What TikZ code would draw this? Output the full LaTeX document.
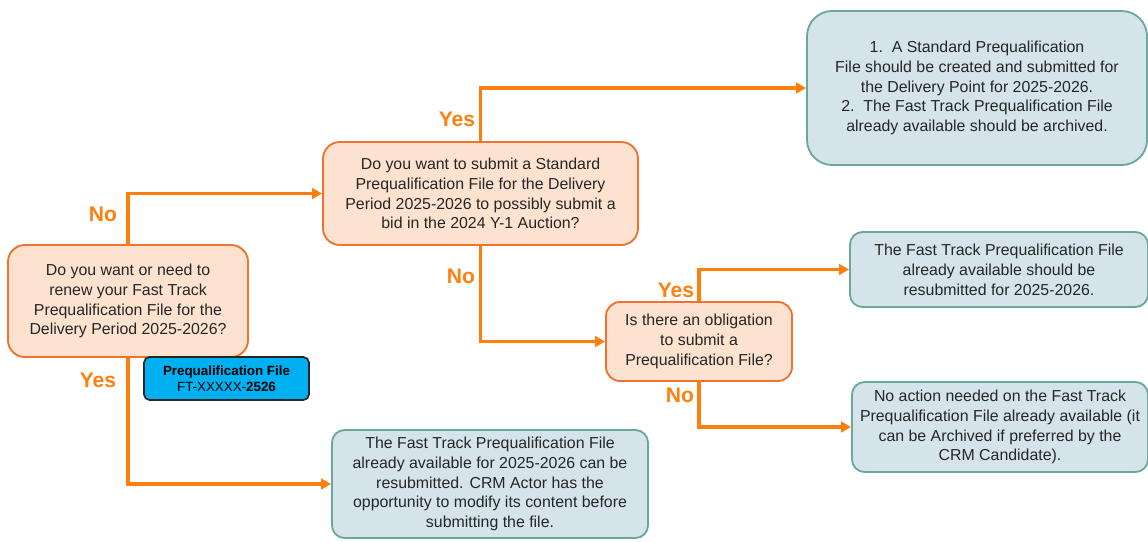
\documentclass[tikz,border=0pt]{standalone}
\usepackage{fontspec}
\setmainfont{Liberation Sans}
\usepackage{tikz}
\usetikzlibrary{arrows.meta,positioning}
\definecolor{floworange}{HTML}{FF7F0E}
\definecolor{askfill}{HTML}{FCE2CF}
\definecolor{askedge}{HTML}{F2712C}
\definecolor{tellfill}{HTML}{D5E4EA}
\definecolor{telledge}{HTML}{6BA89C}
\definecolor{tagblue}{HTML}{00B0F0}

\begin{document}
\begin{tikzpicture}[x=0.025cm,y=-0.025cm,
    ask/.style={draw=askedge,line width=1.3pt,fill=askfill,rounded corners=12pt,align=center,text=black!85,font=\fontsize{11.3}{14.1}\selectfont},
    tell/.style={draw=telledge,line width=1.3pt,fill=tellfill,rounded corners=9pt,align=center,text=black!85,font=\fontsize{11.3}{14.1}\selectfont},
    flow/.style={draw=floworange,line width=2.2pt,-{Triangle[length=7pt,width=7.5pt]}},
    choice/.style={text=floworange,font=\bfseries\fontsize{15}{15}\selectfont}]
    \useasboundingbox (0,0) rectangle (1148,541);
    \node[ask,minimum width=6cm,minimum height=2.8cm] (renew) at (128,301) {Do you want or need to\\renew your Fast Track\\Prequalification File for the\\Delivery Period 2025-2026?};
    \node[ask,minimum width=7.875cm,minimum height=2.575cm] (standard) at (480.5,193.5) {Do you want to submit a Standard\\Prequalification File for the Delivery\\Period 2025-2026 to possibly submit a\\bid in the 2024 Y-1 Auction?};
    \node[ask,rounded corners=10pt,minimum width=4.65cm,minimum height=1.975cm] (obligation) at (699,341.5) {Is there an obligation\\to submit a\\Prequalification File?};
    \node[tell,rounded corners=18pt,minimum width=8.5cm,minimum height=3.85cm] (create) at (977,88) {1.\ \ A Standard Prequalification\\File should be created and submitted for\\the Delivery Point for 2025-2026.\\2.\ \ The Fast Track Prequalification File\\already available should be archived.};
    \node[tell,minimum width=7.45cm,minimum height=1.875cm] (resubmit) at (999,269.5) {The Fast Track Prequalification File\\already available should be\\resubmitted for 2025-2026.};
    \node[tell,minimum width=7.4cm,minimum height=2.25cm] (noaction) at (1000,427) {No action needed on the Fast Track\\Prequalification File already available (it\\can be Archived if preferred by the\\CRM Candidate).};
    \node[tell,minimum width=7.9cm,minimum height=2.7cm] (modify) at (490,484) {The Fast Track Prequalification File\\already available for 2025-2026 can be\\resubmitted. CRM Actor has the\\opportunity to modify its content before\\submitting the file.};
    \node[draw=black!85,line width=1.2pt,fill=tagblue,rounded corners=4pt,minimum width=4.125cm,minimum height=1.075cm,align=center,font=\fontsize{9.5}{11.5}\selectfont] (tag) at (226.5,378.5) {\textbf{Prequalification File}\\FT-XXXXX-\textbf{2526}};
    \draw[flow] (renew.north) |- (standard.west);
    \draw[flow] (renew.south) |- (modify.west);
    \draw[flow] (standard.north) |- (create.west);
    \draw[flow] (standard.south) |- (obligation.west);
    \draw[flow] (obligation.north) |- (resubmit.west);
    \draw[flow] (obligation.south) |- (noaction.west);
    \node[choice] (renewno) at (103,214) {No};
    \node[choice] (renewyes) at (98,380) {Yes};
    \node[choice] (standardyes) at (457,119) {Yes};
    \node[choice] (standardno) at (461,276) {No};
    \node[choice] (obligationyes) at (676,290) {Yes};
    \node[choice] (obligationno) at (680,395) {No};
\end{tikzpicture}
\end{document}
